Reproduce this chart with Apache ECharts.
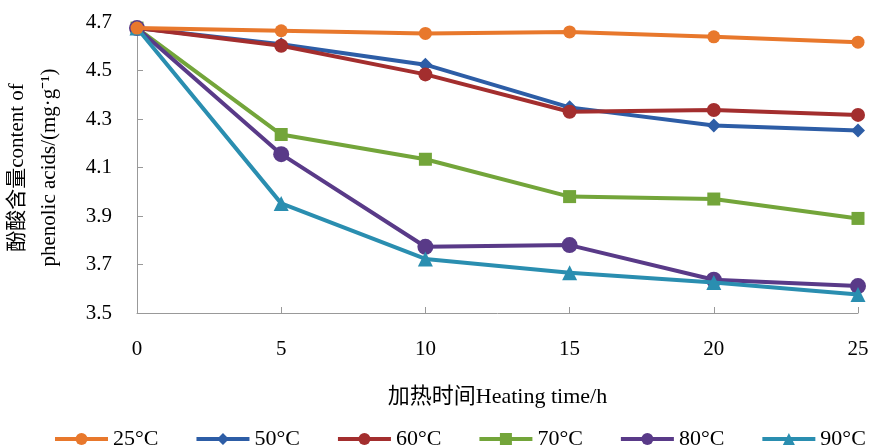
<!DOCTYPE html>
<html><head><meta charset="utf-8">
<script src="https://cdn.jsdelivr.net/npm/echarts@6/dist/echarts.min.js"></script>
<style>html,body{margin:0;padding:0;background:#fff}#c{width:872px;height:447px}</style>
</head><body><div id="c"></div>
<script>
const hours = [0, 5, 10, 15, 20, 25];
const seriesNames = ['25°C', '50°C', '60°C', '70°C', '80°C', '90°C'];
const v25 = [4.675, 4.664, 4.653, 4.659, 4.639, 4.617];
const v50 = [4.675, 4.608, 4.524, 4.348, 4.273, 4.253];
const v60 = [4.675, 4.602, 4.484, 4.330, 4.337, 4.317];
const v70 = [4.675, 4.236, 4.134, 3.980, 3.970, 3.890];
const v80 = [4.675, 4.155, 3.773, 3.780, 3.637, 3.611];
const v90 = [4.675, 3.952, 3.723, 3.666, 3.626, 3.576];
const yTicks = [3.5, 3.7, 3.9, 4.1, 4.3, 4.5, 4.7];

const values = [v25, v50, v60, v70, v80, v90];
const colors = ['#E8782C', '#2D5DA6', '#A32E2E', '#73A53A', '#593A88', '#2A8EB0'];
const symbols = ['circle', 'diamond', 'circle', 'rect', 'circle', 'triangle'];
const sizes = [13, 14, 14, 13, 16, 15];
const zs = [8, 3, 4, 5, 6, 7];

const chart = echarts.init(document.getElementById('c'));
const font = '"Liberation Serif","Times New Roman","Noto Sans CJK SC",serif';
chart.setOption({
  animation: false,
  textStyle: {fontFamily: font},
  grid: {left: 137, right: 14, top: 22, bottom: 134, containLabel: false, outerBoundsMode: 'none'},
  legend: {
    top: 423, left: 48,
    itemWidth: 53, itemHeight: 15, itemGap: 36,
    lineStyle: {width: 4},
    textStyle: {fontFamily: font, fontSize: 22, color: '#000'},
    data: seriesNames
  },
  xAxis: {
    type: 'value', min: 0, max: 25, interval: 5,
    name: '加热时间Heating time/h', nameLocation: 'middle', nameGap: 73,
    nameTextStyle: {fontFamily: font, fontSize: 22, color: '#000'},
    axisLine: {lineStyle: {color: '#999', width: 1}},
    axisTick: {inside: true, length: 6, lineStyle: {color: '#999'}},
    axisLabel: {fontFamily: font, fontSize: 21, color: '#000', margin: 26},
    splitLine: {show: false}
  },
  yAxis: {
    type: 'value', min: 3.5, max: 4.7, interval: 0.2,
    name: '酚酸含量content of\nphenolic acids/(mg·g⁻¹)', nameLocation: 'middle', nameGap: 72,
    nameTextStyle: {fontFamily: font, fontSize: 21, color: '#000', lineHeight: 32},
    axisLine: {show: true, lineStyle: {color: '#999', width: 1}},
    axisTick: {show: true, inside: true, length: 6, lineStyle: {color: '#999'}},
    axisLabel: {fontFamily: font, fontSize: 21, color: '#000', margin: 25,
      formatter: v => v.toFixed(1)},
    splitLine: {show: false}
  },
  series: values.map((vals, i) => ({
    name: seriesNames[i], type: 'line', z: zs[i],
    data: hours.map((h, j) => [h, vals[j]]),
    symbol: symbols[i], symbolSize: sizes[i], showSymbol: true,
    itemStyle: {color: colors[i]},
    lineStyle: {color: colors[i], width: 4}
  }))
});
</script></body></html>
